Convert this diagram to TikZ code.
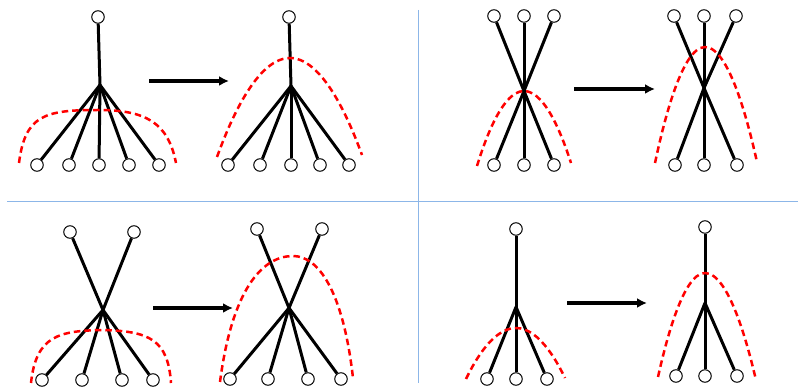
\documentclass[tikz,border=0pt]{standalone}
\usepackage{tikz}
\usetikzlibrary{positioning,arrows.meta}

\definecolor{divblue}{RGB}{140,182,232}

\begin{document}
\begin{tikzpicture}[x=1pt, y=-1pt,
	vertex/.style={draw, circle, fill=white, minimum size=12.5pt, inner sep=0pt, line width=1pt},
	edge/.style={line width=3pt},
	cut/.style={red, line width=2.5pt, dash pattern=on 6.5pt off 4pt},
	move/.style={-{Latex[length=10pt,width=10pt]}, line width=3.2pt}
]
\useasboundingbox (0,0) rectangle (798,387);

% Dividers
\draw[divblue, line width=1pt] (418,10) -- (418,383);
\draw[divblue, line width=1pt] (7,202) -- (798,202);

% Fan, before
\coordinate (fa_hub) at (100,85);
\node [vertex] (fa_top) at (98,17) {};
\foreach \x [count=\i] in {37,69,99,129,159} {
	\node [vertex] (fa_leaf\i) at (\x,165) {};
}
\draw[edge] (fa_top) -- (fa_hub);
\foreach \i in {1,...,5} \draw[edge] (fa_hub) -- (fa_leaf\i);

% Fan, after
\coordinate (fb_hub) at (291,86);
\node [vertex] (fb_top) at (289,17) {};
\foreach \x [count=\i] in {228,260,291,320,349} {
	\node [vertex] (fb_leaf\i) at (\x,165) {};
}
\draw[edge] (fb_top) -- (fb_hub);
\foreach \i in {1,...,5} \draw[edge] (fb_hub) -- (fb_leaf\i);

% Cross, before
\coordinate (xa_hub) at (524,91);
\foreach \x [count=\i] in {494,524,554} {
	\node [vertex] (xa_top\i) at (\x,16) {};
	\node [vertex] (xa_leaf\i) at (\x,165) {};
	\draw[edge] (xa_top\i) -- (xa_hub);
	\draw[edge] (xa_hub) -- (xa_leaf\i);
}

% Cross, after
\coordinate (xb_hub) at (704,88);
\foreach \x [count=\i] in {674,704,736} {
	\node [vertex] (xb_top\i) at (\x,16) {};
	\draw[edge] (xb_top\i) -- (xb_hub);
}
\foreach \x [count=\i] in {675,704,737} {
	\node [vertex] (xb_leaf\i) at (\x,165) {};
	\draw[edge] (xb_hub) -- (xb_leaf\i);
}

% Two roots, before
\coordinate (ta_hub) at (103,310);
\node [vertex] (ta_top1) at (70,232) {};
\node [vertex] (ta_top2) at (134,232) {};
\foreach \x [count=\i] in {42,82,122,153} {
	\node [vertex] (ta_leaf\i) at (\x,380) {};
	\draw[edge] (ta_hub) -- (ta_leaf\i);
}
\draw[edge] (ta_top1) -- (ta_hub);
\draw[edge] (ta_top2) -- (ta_hub);

% Two roots, after
\coordinate (tb_hub) at (289,308);
\node [vertex] (tb_top1) at (257,229) {};
\node [vertex] (tb_top2) at (322,229) {};
\foreach \x [count=\i] in {230,268,308,341} {
	\node [vertex] (tb_leaf\i) at (\x,379) {};
	\draw[edge] (tb_hub) -- (tb_leaf\i);
}
\draw[edge] (tb_top1) -- (tb_hub);
\draw[edge] (tb_top2) -- (tb_hub);

% Small fan, before
\coordinate (sa_hub) at (516,307);
\node [vertex] (sa_top) at (516,229) {};
\draw[edge] (sa_top) -- (sa_hub);
\foreach \x [count=\i] in {487,516,547} {
	\node [vertex] (sa_leaf\i) at (\x,379) {};
	\draw[edge] (sa_hub) -- (sa_leaf\i);
}

% Small fan, after
\coordinate (sb_hub) at (705,303);
\node [vertex] (sb_top) at (705,227) {};
\draw[edge] (sb_top) -- (sb_hub);
\foreach \x [count=\i] in {676,705,737} {
	\node [vertex] (sb_leaf\i) at (\x,376) {};
	\draw[edge] (sb_hub) -- (sb_leaf\i);
}

% Arrows between the pairs
\coordinate (fa_out) at (149,81);   \coordinate (fb_in) at (229,81);
\coordinate (xa_out) at (574,89);   \coordinate (xb_in) at (655,89);
\coordinate (ta_out) at (153,308);  \coordinate (tb_in) at (233,308);
\coordinate (sa_out) at (567,303);  \coordinate (sb_in) at (647,303);
\draw[move] (fa_out) -- (fb_in);
\draw[move] (xa_out) -- (xb_in);
\draw[move] (ta_out) -- (tb_in);
\draw[move] (sa_out) -- (sb_in);

% Red cuts
\draw[cut] (19,163) .. controls (25,115) and (45,110) .. (98,110)
	.. controls (145,110) and (168,122) .. (176,163);
\draw[cut] (217,157) parabola bend (290,58) (362,155);
\draw[cut] (477,166) parabola bend (524,91) (571,163);
\draw[cut] (655,163) parabola bend (705,47) (757,162);
\draw[cut] (31,383) .. controls (36,335) and (60,331) .. (102,330)
	.. controls (150,331) and (168,340) .. (171,383);
\draw[cut] (220,382) .. controls (232,290) and (262,256) .. (293,256)
	.. controls (318,256) and (343,290) .. (353,378);
\draw[cut] (466,379) parabola bend (516,328) (565,378);
\draw[cut] (658,377) parabola bend (705,273) (756,380);

\end{tikzpicture}
\end{document}
